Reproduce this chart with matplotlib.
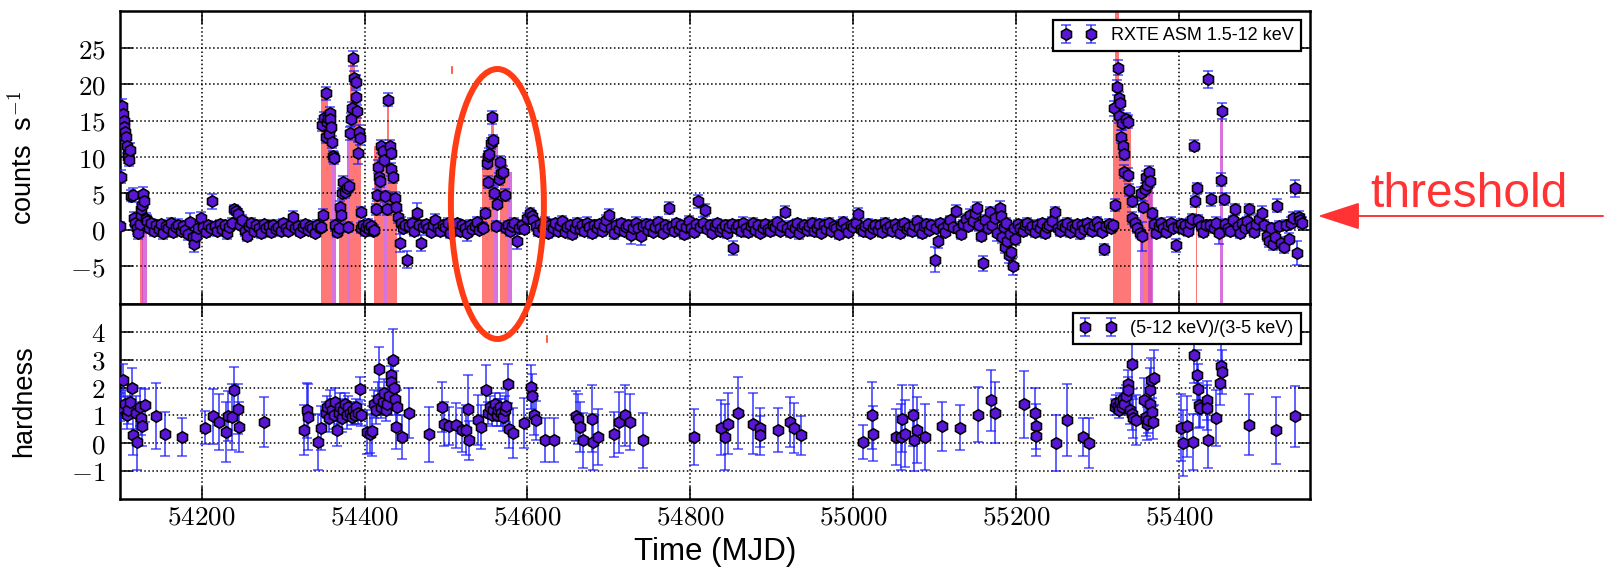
import matplotlib
matplotlib.use("Agg")
import matplotlib.pyplot as plt
import numpy as np
from matplotlib.patches import Ellipse, FancyArrowPatch
from matplotlib.lines import Line2D
from matplotlib.ticker import FuncFormatter

# ---------------- data: RXTE ASM light curve (mjd, rate, err) ----------------
asm_seg1 = [(54100, 0.5, 0.6), (54101, 7.3, 0.9), (54102, 17.0, 1.0), (54103, 16.0, 1.0),
            (54104, 15.0, 1.0), (54105, 14.2, 0.9), (54106, 13.5, 0.9), (54107, 12.8, 0.9),
            (54108, 11.5, 0.9), (54109, 10.5, 0.8), (54110, 10.0, 0.8), (54111, 9.6, 0.8),
            (54112, 11.0, 0.9), (54113, 4.7, 0.8), (54115, 4.8, 1.0), (54117, 1.6, 0.9),
            (54118, 1.0, 0.8), (54120, 0.2, 0.8), (54122, -0.4, 0.8), (54124, 0.8, 0.8),
            (54125, 2.0, 0.8), (54126, 2.8, 0.8), (54127, 3.4, 0.8), (54128, 4.9, 1.0),
            (54129, 4.0, 0.9), (54131, 1.5, 0.8), (54133, 1.2, 0.8)]
asm_seg2 = [(54135, 0.3, 0.7), (54138, 0.9, 0.6), (54141, -0.2, 0.7), (54144, 0.6, 0.6),
            (54147, 0.1, 0.7), (54150, 0.8, 0.6), (54153, -0.4, 0.8), (54156, 0.5, 0.6),
            (54159, 0.2, 0.7), (54162, 1.0, 0.6), (54165, -0.3, 0.7), (54168, 0.4, 0.6),
            (54171, 0.7, 0.8), (54174, -0.1, 0.6), (54177, 0.5, 0.7), (54180, 0.0, 0.6),
            (54183, -0.6, 0.8), (54186, 1.1, 1.2), (54189, -1.0, 0.9), (54191, -2.0, 1.1),
            (54193, -0.8, 0.8), (54196, 0.3, 0.7), (54199, 1.6, 0.9), (54202, 0.4, 0.6),
            (54205, -0.3, 0.7), (54208, 0.6, 0.6), (54211, 0.2, 0.7), (54213, 3.9, 1.0),
            (54216, 0.5, 0.6), (54219, -0.2, 0.7), (54222, 0.8, 0.6), (54225, 0.1, 0.7),
            (54228, 0.6, 0.6), (54231, -0.5, 0.7), (54234, 0.4, 0.6), (54237, 0.9, 0.7),
            (54240, 2.8, 0.6), (54242, 2.6, 0.6), (54244, 2.2, 0.7), (54247, 0.7, 0.6),
            (54250, 1.3, 0.7), (54253, -0.2, 0.6), (54255, -0.8, 0.7), (54258, 0.5, 0.6),
            (54261, 0.9, 0.7), (54264, -0.1, 0.6), (54267, 0.6, 0.7), (54270, 0.3, 0.6),
            (54273, -0.4, 0.7), (54276, 0.8, 0.6), (54279, 0.2, 0.7), (54282, 0.5, 0.6),
            (54285, -0.3, 0.7), (54288, 0.7, 0.6), (54291, 0.1, 0.7), (54294, 0.4, 0.6),
            (54297, -0.2, 0.7), (54300, 0.9, 0.6), (54303, 0.3, 0.7), (54306, -0.1, 0.6),
            (54309, 0.6, 0.7), (54312, 1.8, 0.8), (54315, 0.2, 0.6), (54318, 0.5, 0.7),
            (54321, -0.3, 0.6), (54324, 0.4, 0.7), (54327, 0.8, 0.6), (54330, 0.0, 0.7),
            (54333, 0.5, 0.6), (54336, 0.2, 0.7), (54339, -0.4, 0.6), (54342, 0.6, 0.7),
            (54345, 0.3, 0.6)]
asm_seg3 = [(54347, 0.4, 0.6), (54348, 14.4, 0.8), (54349, 2.1, 0.7), (54350, 15.4, 0.8),
            (54352, 12.8, 0.8), (54353, 18.8, 0.9), (54354, 14.8, 0.8), (54355, 15.4, 0.8),
            (54356, 13.2, 0.8), (54357, 16.1, 0.8), (54358, 15.2, 0.8), (54359, 14.2, 0.8),
            (54360, 12.1, 0.8), (54361, 10.1, 0.8), (54362, 9.9, 0.8), (54364, 0.6, 0.7),
            (54366, -0.3, 0.7), (54368, 0.2, 0.7), (54370, 3.2, 0.7), (54371, 2.0, 0.7),
            (54372, 5.0, 0.8), (54374, 6.6, 0.8), (54376, 5.2, 0.8), (54378, 5.8, 0.8),
            (54380, 0.4, 0.7), (54381, 6.0, 0.8), (54382, 13.3, 0.9), (54383, 15.2, 0.9),
            (54384, 16.7, 0.9), (54386, 23.6, 1.0), (54387, 20.9, 0.9), (54389, 20.4, 0.9),
            (54390, 18.3, 0.9), (54391, 16.3, 0.9), (54392, 10.6, 1.5), (54393, 13.5, 0.9),
            (54394, 12.6, 0.9), (54395, 2.5, 0.7), (54396, 0.2, 0.7), (54398, 0.6, 0.6),
            (54400, -0.1, 0.7), (54402, 0.4, 0.6), (54404, 0.8, 0.7), (54406, 0.1, 0.6),
            (54408, 0.5, 0.7), (54410, -0.2, 0.6), (54412, 0.0, 0.7), (54414, 2.8, 0.8),
            (54415, 4.8, 0.8), (54416, 8.7, 0.9), (54418, 7.3, 0.8), (54419, 6.7, 0.8),
            (54420, 11.5, 0.9), (54422, 10.8, 0.9), (54424, 9.6, 0.9), (54425, 4.6, 0.8),
            (54428, 2.8, 0.8), (54429, 17.9, 0.9), (54431, 11.5, 0.9), (54432, 10.6, 0.9),
            (54433, 8.3, 0.9), (54435, 7.3, 0.8), (54437, 4.4, 0.8), (54439, 3.2, 0.8),
            (54441, 1.8, 0.8), (54443, -1.8, 1.2), (54445, 1.0, 0.8), (54447, 0.3, 0.7),
            (54449, 0.7, 0.7), (54452, -4.1, 1.2), (54455, 0.5, 0.7), (54458, 0.9, 0.7),
            (54461, -0.2, 0.7), (54464, 2.3, 1.4), (54467, 0.6, 0.7), (54469, -1.8, 1.1),
            (54472, 0.4, 0.6)]
asm_seg4 = [(54475, 0.8, 0.6), (54478, 0.2, 0.7), (54481, -0.3, 0.6), (54484, 0.6, 0.7),
            (54487, 1.4, 0.8), (54490, 0.3, 0.6), (54493, -0.2, 0.7), (54496, 0.7, 0.6),
            (54499, 0.4, 0.7), (54502, 1.0, 0.6), (54505, -0.4, 0.7), (54508, 0.5, 0.6),
            (54511, 0.2, 0.7), (54514, 0.9, 0.6), (54517, -0.1, 0.7), (54520, 0.6, 0.6),
            (54523, 0.3, 0.7), (54526, -0.5, 1.0), (54529, 0.7, 0.6), (54532, 0.1, 0.7),
            (54535, 0.5, 0.6), (54538, 1.1, 0.7), (54541, 0.0, 0.6), (54544, 0.4, 0.7)]
asm_seg5 = [(54546, 0.3, 0.6), (54548, 2.3, 0.7), (54550, 9.2, 0.8), (54551, 6.6, 0.8),
            (54552, 10.1, 0.8), (54553, 10.5, 0.8), (54555, 11.9, 0.8), (54557, 15.5, 0.9),
            (54558, 12.3, 0.8), (54559, 5.1, 0.8), (54561, 0.5, 0.7), (54563, 3.6, 0.8),
            (54565, 7.0, 0.8), (54566, 9.3, 0.8), (54568, 7.8, 0.8), (54570, 8.0, 0.8),
            (54572, 4.8, 0.8), (54574, 0.2, 0.7), (54576, 0.6, 0.6), (54578, -0.2, 0.7),
            (54581, 0.5, 0.6), (54584, 0.9, 0.7), (54587, -1.6, 1.0), (54590, 0.3, 0.6),
            (54593, 0.7, 0.7), (54596, 0.1, 0.6), (54600, 1.6, 0.7), (54603, 2.3, 0.7),
            (54605, 1.9, 0.7), (54607, 1.4, 0.6)]
asm_seg6 = [(54610, 0.5, 0.6), (54613, -0.2, 0.7), (54616, 0.8, 0.6), (54619, 0.3, 0.7),
            (54622, 1.1, 0.6), (54625, -0.4, 0.7), (54628, 0.6, 0.6), (54631, 0.2, 0.7),
            (54634, 0.9, 0.6), (54637, -0.1, 0.7), (54640, 0.5, 0.6), (54643, 1.2, 0.7),
            (54646, -0.3, 0.6), (54649, 0.4, 0.7), (54652, 0.7, 0.6), (54655, -0.6, 0.7),
            (54658, 0.3, 0.6), (54661, 0.9, 0.7), (54664, 0.1, 0.6), (54667, 0.6, 0.7),
            (54670, -0.2, 0.6), (54673, 1.0, 0.7), (54676, 0.4, 0.6), (54679, -0.4, 0.7),
            (54682, 0.7, 0.6), (54685, 0.2, 0.7), (54688, 0.8, 0.6), (54691, -0.1, 0.7),
            (54694, 0.5, 0.6), (54697, 1.3, 0.7), (54700, 2.1, 0.8), (54703, 0.3, 0.6),
            (54706, -0.5, 0.7), (54709, 0.6, 0.6), (54712, 0.1, 0.7), (54715, 0.9, 0.6),
            (54718, -0.2, 0.7), (54721, 0.4, 0.6), (54724, 0.7, 0.7), (54727, -0.7, 1.2),
            (54730, 0.3, 0.6), (54733, 1.0, 0.7), (54736, 0.2, 0.6), (54739, -0.9, 1.2),
            (54742, 0.5, 0.6), (54745, 0.8, 0.7), (54748, 0.0, 0.6), (54751, 0.6, 0.7),
            (54754, -0.3, 0.6), (54757, 0.4, 0.7), (54760, 1.1, 0.6), (54763, 0.2, 0.7),
            (54766, -0.4, 0.6), (54769, 0.7, 0.7), (54772, 0.3, 0.6), (54774, 3.0, 0.8),
            (54777, 0.5, 0.6), (54780, -0.2, 0.7), (54783, 0.9, 0.6), (54786, 0.1, 0.7),
            (54789, 0.6, 0.6), (54792, -0.6, 0.7), (54795, 0.4, 0.6), (54798, 1.2, 0.7),
            (54801, 0.2, 0.6), (54804, -0.3, 0.7), (54807, 0.8, 0.6), (54809, 3.9, 0.9),
            (54812, 0.4, 0.6), (54815, 1.0, 0.7), (54818, 2.7, 0.8), (54821, 0.1, 0.6),
            (54824, 0.6, 0.7), (54827, -0.4, 0.6), (54830, 0.5, 0.7), (54833, 0.9, 0.6),
            (54836, -0.1, 0.7), (54839, 0.3, 0.6), (54842, 0.7, 0.7), (54845, -0.5, 0.6),
            (54848, 0.4, 0.7), (54851, 0.8, 0.6), (54853, -2.5, 1.0), (54856, 0.2, 0.6),
            (54859, 0.6, 0.7), (54862, -0.2, 0.6), (54865, 1.0, 0.7), (54868, 0.3, 0.6),
            (54871, -0.3, 0.7), (54874, 0.5, 0.6), (54877, 0.9, 0.7), (54880, 0.0, 0.6),
            (54883, 0.6, 0.7), (54886, -0.4, 0.6), (54889, 0.3, 0.7), (54892, 0.8, 0.6),
            (54895, 0.1, 0.7), (54898, -0.2, 0.6), (54901, 0.7, 0.7), (54904, 0.4, 0.6),
            (54907, 1.1, 0.7), (54910, -0.1, 0.6), (54913, 0.5, 0.7), (54916, 2.5, 0.8),
            (54919, 0.3, 0.6), (54922, -0.3, 0.7), (54925, 0.6, 0.6), (54928, 0.2, 0.7),
            (54931, 0.9, 0.6), (54934, -0.5, 0.7), (54937, 0.4, 0.6), (54940, 0.7, 0.7),
            (54943, 0.0, 0.6), (54946, 0.5, 0.7), (54949, 1.0, 0.6), (54952, -0.2, 0.7),
            (54955, 0.3, 0.6), (54958, 0.8, 0.7)]
asm_seg7 = [(54961, -0.4, 0.6), (54964, 0.6, 0.7), (54967, 0.1, 0.6), (54970, 0.9, 0.7),
            (54973, -0.1, 0.6), (54976, 0.5, 0.7), (54979, 0.3, 0.6), (54982, -0.6, 0.7),
            (54985, 0.7, 0.6), (54988, 1.1, 0.7), (54991, 0.2, 0.6), (54994, -0.3, 0.7),
            (54997, 0.6, 0.6), (55000, 0.4, 0.7), (55003, 0.9, 0.6), (55006, 2.2, 0.8),
            (55009, 0.1, 0.6), (55012, -0.2, 0.7), (55015, 0.5, 0.6), (55018, 0.8, 0.7),
            (55021, -0.4, 0.6), (55024, 0.3, 0.7), (55027, 0.7, 0.6), (55030, 0.0, 0.7),
            (55033, 0.6, 0.6), (55036, -0.3, 0.7), (55039, 1.0, 0.6), (55042, 0.2, 0.7),
            (55045, 0.5, 0.6), (55048, -0.1, 0.7), (55051, 0.8, 0.6), (55054, 0.3, 0.7),
            (55057, -0.5, 0.6), (55060, 0.6, 0.7), (55063, 0.9, 0.6), (55066, 0.1, 0.7),
            (55069, 0.4, 0.6), (55072, -0.2, 0.7), (55075, 0.7, 0.6), (55078, 1.2, 0.7),
            (55081, 0.3, 0.6), (55084, -0.4, 0.7), (55087, 0.5, 0.6), (55090, 0.8, 0.7),
            (55093, 0.0, 0.6), (55096, 0.6, 0.7), (55100, -4.1, 1.7), (55102, 0.3, 0.6),
            (55104, -1.5, 1.0), (55107, 0.9, 0.6), (55110, 0.2, 0.7), (55113, -0.3, 0.6),
            (55116, 0.7, 0.7), (55119, 1.3, 0.6), (55122, 0.4, 0.7), (55126, 2.6, 0.8),
            (55129, 0.1, 0.6), (55132, -0.6, 0.7), (55135, 0.8, 0.6), (55138, 1.5, 0.7),
            (55141, 0.5, 0.6), (55144, 2.0, 0.8), (55147, 1.2, 0.7), (55150, 2.3, 0.8),
            (55152, 3.0, 0.8), (55155, 0.6, 0.7), (55157, -0.8, 0.8), (55159, -4.6, 1.0),
            (55162, 1.4, 0.7), (55165, 0.3, 0.6), (55168, 2.4, 0.8), (55171, 0.7, 0.7),
            (55174, 1.6, 0.7), (55177, -0.5, 1.0), (55180, 3.0, 0.9), (55181, 1.9, 0.8),
            (55183, -1.0, 0.8), (55185, 0.4, 0.7), (55186, -2.3, 0.9), (55188, 0.9, 0.7),
            (55189, -1.5, 0.9), (55191, -3.5, 1.0), (55193, -0.6, 0.8), (55194, -3.0, 1.1),
            (55196, -5.0, 1.2), (55198, 0.2, 0.7), (55199, -1.2, 0.9), (55202, 0.8, 0.6),
            (55205, 0.3, 0.7), (55208, -0.2, 0.6), (55211, 0.6, 0.7), (55214, 1.0, 0.6),
            (55217, 0.1, 0.7), (55220, 0.5, 0.6), (55223, -0.3, 0.7), (55226, 0.7, 0.6),
            (55229, 0.2, 0.7), (55232, 0.9, 0.6), (55235, -0.4, 0.7), (55238, 0.4, 0.6),
            (55241, 0.6, 0.7), (55244, 1.2, 0.6), (55248, 2.4, 0.8), (55251, 0.3, 0.6),
            (55254, -0.1, 0.7), (55257, 0.7, 0.6), (55260, 0.4, 0.7), (55263, 1.0, 0.6),
            (55266, -0.3, 0.7), (55269, 0.5, 0.6), (55272, 0.2, 0.7), (55275, 0.8, 0.6),
            (55278, -0.5, 0.7), (55281, 0.6, 0.6), (55284, 0.1, 0.7), (55287, 0.9, 0.6),
            (55290, 0.3, 0.7), (55293, -0.2, 0.6), (55296, 0.7, 0.7), (55299, 1.1, 0.6),
            (55302, 0.4, 0.7), (55305, -0.3, 0.6), (55308, -2.7, 0.8), (55311, 0.5, 0.6),
            (55314, 0.8, 0.7), (55317, 0.2, 0.6)]
asm_seg8 = [(55319, 0.6, 0.6), (55320, 16.7, 1.0), (55322, 3.4, 0.8), (55324, 19.6, 1.0),
            (55325, 22.3, 1.0), (55326, 15.6, 0.9), (55327, 18.1, 0.9), (55328, 17.4, 0.9),
            (55329, 12.8, 0.9), (55330, 14.7, 0.9), (55331, 11.5, 0.9), (55332, 10.5, 0.9),
            (55333, 8.0, 0.9), (55335, 15.2, 0.9), (55337, 7.6, 0.9), (55338, 14.9, 0.9),
            (55339, 5.5, 0.8), (55342, 1.6, 0.8), (55343, 3.9, 0.8), (55346, 0.9, 0.7),
            (55349, 0.3, 0.7), (55352, -0.4, 0.7), (55354, 5.0, 0.9), (55355, -0.9, 2.0),
            (55356, 3.2, 0.8), (55358, 5.6, 0.8), (55359, 7.3, 0.8), (55361, 6.2, 0.8),
            (55363, 8.0, 0.8), (55365, 6.7, 0.8), (55367, 2.3, 0.7), (55369, 0.8, 0.7),
            (55372, -0.4, 0.7)]
asm_seg9 = [(55375, 0.5, 0.6), (55378, 0.9, 0.7), (55381, 0.2, 0.6), (55384, -0.3, 0.7),
            (55387, 0.6, 0.6), (55390, 1.0, 0.7), (55393, 0.3, 0.6), (55396, -2.1, 0.9),
            (55399, 0.4, 0.6), (55402, 0.8, 0.7), (55405, 0.1, 0.6), (55408, 0.6, 0.7),
            (55411, -0.2, 0.6), (55414, 0.9, 0.7), (55416, 1.5, 0.7), (55418, 11.6, 0.8),
            (55420, 3.9, 0.8), (55422, 5.7, 0.8), (55424, 1.4, 0.7), (55427, 0.5, 0.6),
            (55430, -0.3, 0.7), (55433, 0.7, 0.6), (55436, 20.7, 1.2), (55438, 0.6, 0.7),
            (55440, 4.2, 0.9), (55443, 0.2, 0.6), (55446, 1.0, 0.7), (55449, -0.5, 1.5),
            (55452, 6.9, 0.9), (55453, 16.4, 1.1), (55455, 4.2, 0.8), (55457, 0.8, 0.7),
            (55460, 0.3, 0.6), (55463, -0.2, 0.7), (55466, 1.3, 0.6), (55469, 2.8, 0.8),
            (55472, 0.5, 0.6), (55475, -0.4, 0.7), (55478, 0.9, 0.6), (55481, 0.2, 0.7),
            (55484, 1.2, 0.6), (55486, 2.8, 0.8), (55489, 0.4, 0.6), (55492, -0.3, 0.7),
            (55495, 0.8, 0.6), (55498, 1.5, 0.7), (55502, 2.3, 1.0), (55505, 0.6, 0.7),
            (55508, -0.8, 0.8), (55511, -1.5, 0.9), (55513, 0.2, 0.7), (55516, -2.0, 0.8),
            (55518, -1.0, 0.9), (55521, 3.3, 0.9), (55523, 0.5, 0.7), (55526, -1.8, 0.8),
            (55529, -2.4, 0.8), (55532, 0.7, 0.7), (55535, -1.2, 0.8), (55538, 1.0, 0.8),
            (55540, 1.6, 0.9), (55543, 5.7, 1.2), (55545, -3.2, 1.7), (55547, 1.8, 0.8),
            (55549, 1.4, 0.8), (55551, 1.0, 0.8)]

# ---------------- data: hardness ratio (mjd, ratio, err) ----------------
hr_seg1 = [(54100, 1.3, 0.5), (54103, 2.27, 0.6), (54106, 1.4, 0.5), (54108, 1.0, 0.5),
           (54110, 1.2, 0.5), (54112, 1.5, 0.6), (54114, 2.0, 0.7), (54116, 0.28, 0.7),
           (54119, 1.1, 0.6), (54121, 0.04, 1.0), (54124, 1.3, 0.7), (54126, 0.9, 0.6),
           (54127, 0.6, 0.7), (54130, 1.36, 0.6), (54144, 0.97, 1.2), (54155, 0.34, 0.8),
           (54176, 0.22, 0.7), (54204, 0.55, 0.6), (54214, 0.97, 1.0), (54221, 0.76, 1.0),
           (54230, 0.4, 1.1), (54232, 0.97, 0.9), (54237, 0.94, 1.2), (54240, 1.9, 0.85),
           (54245, 1.24, 0.9), (54246, 0.58, 0.9), (54277, 0.76, 0.9), (54325, 0.48, 0.9),
           (54329, 1.18, 1.0), (54331, 0.94, 1.2), (54343, 0.04, 1.0), (54347, 0.55, 0.8)]
hr_seg2 = [(54352, 1.1, 0.4), (54354, 1.3, 0.4), (54356, 0.9, 0.5), (54358, 1.4, 0.5),
           (54360, 1.2, 0.4), (54362, 1.0, 0.5), (54364, 1.5, 0.5), (54366, 0.48, 0.6),
           (54368, 1.1, 0.4), (54370, 1.3, 0.5), (54372, 0.9, 0.5), (54374, 1.2, 0.4),
           (54376, 1.4, 0.4), (54378, 1.0, 0.5), (54380, 1.3, 0.4), (54382, 1.1, 0.3),
           (54384, 0.95, 0.3), (54386, 1.2, 0.3), (54388, 1.0, 0.3), (54390, 1.3, 0.3),
           (54392, 1.1, 0.4), (54394, 1.97, 0.4), (54396, 1.0, 0.4), (54403, 0.4, 0.8),
           (54407, 0.34, 0.7), (54409, 0.45, 0.9), (54412, 1.4, 0.5), (54414, 1.2, 0.5),
           (54416, 1.6, 0.6), (54418, 2.67, 0.8), (54420, 1.3, 0.4), (54422, 1.5, 0.5),
           (54424, 1.8, 0.5), (54426, 1.2, 0.4), (54428, 1.4, 0.4), (54430, 1.7, 0.5),
           (54432, 2.45, 0.6), (54433, 2.2, 0.6), (54435, 3.0, 1.1), (54436, 2.0, 0.6),
           (54437, 1.6, 0.6), (54438, 0.58, 0.8), (54440, 1.3, 0.6), (54446, 0.22, 0.8),
           (54454, 1.09, 0.9)]
hr_seg3 = [(54479, 0.31, 1.0), (54495, 1.3, 0.9), (54498, 0.7, 0.8), (54504, 0.62, 0.7),
           (54512, 0.64, 0.8), (54520, 0.48, 0.8), (54525, 0.46, 0.9), (54527, 1.24, 1.2),
           (54528, 0.1, 0.7), (54539, 0.82, 0.9), (54543, 0.58, 0.8), (54549, 1.93, 0.9),
           (54552, 1.1, 0.4), (54554, 1.3, 0.4), (54556, 1.0, 0.4), (54558, 1.2, 0.3),
           (54560, 1.4, 0.4), (54562, 1.0, 0.4), (54564, 1.2, 0.4), (54566, 1.3, 0.5),
           (54568, 1.1, 0.5), (54570, 0.95, 0.5), (54572, 1.2, 0.5), (54574, 1.35, 0.6),
           (54576, 2.15, 0.7), (54577, 0.52, 0.7), (54582, 0.36, 0.9), (54596, 0.72, 0.9),
           (54604, 2.03, 0.8), (54605, 1.69, 0.8), (54608, 1.0, 0.7), (54610, 0.82, 0.7),
           (54622, 0.1, 0.8), (54632, 0.1, 0.8)]
hr_seg4 = [(54659, 0.97, 0.9), (54662, 0.88, 0.9), (54665, 0.58, 0.9), (54668, 0.1, 1.0),
           (54679, 0.88, 1.2), (54680, 0.04, 1.0), (54687, 0.22, 1.0), (54706, 0.31, 0.8),
           (54712, 0.76, 1.1), (54720, 1.0, 1.1), (54726, 0.76, 1.0), (54742, 0.1, 1.0),
           (54804, 0.22, 1.0), (54838, 0.56, 1.0), (54843, 0.22, 1.2), (54846, 0.7, 1.1),
           (54859, 1.1, 1.3), (54877, 0.7, 1.1), (54885, 0.56, 0.7), (54886, 0.28, 0.7),
           (54908, 0.48, 0.8), (54922, 0.76, 0.9), (54927, 0.56, 0.9), (54936, 0.28, 0.7),
           (55012, 0.04, 0.6), (55023, 1.0, 1.2), (55024, 0.34, 1.0), (55052, 0.22, 1.0),
           (55059, 0.22, 1.2), (55060, 0.88, 1.2), (55064, 0.34, 1.2), (55074, 1.0, 1.1),
           (55075, 0.1, 1.1), (55078, 0.48, 1.2), (55088, 0.22, 1.2), (55109, 0.6, 0.9),
           (55131, 0.56, 0.8), (55153, 1.03, 1.0), (55169, 1.55, 1.1), (55174, 1.1, 1.1),
           (55210, 1.4, 1.2), (55223, 1.1, 0.9), (55224, 0.6, 0.8), (55225, 0.24, 0.7),
           (55249, 0.0, 1.0), (55263, 0.82, 1.3), (55282, 0.22, 0.7), (55290, 0.0, 0.9)]
hr_seg5 = [(55321, 1.3, 0.3), (55323, 1.45, 0.3), (55325, 1.35, 0.25), (55326, 1.2, 0.3),
           (55328, 1.5, 0.3), (55330, 1.3, 0.3), (55331, 1.6, 0.4), (55333, 1.4, 0.3),
           (55335, 1.7, 0.4), (55337, 2.15, 0.5), (55338, 1.9, 0.5), (55340, 1.2, 0.5),
           (55342, 2.87, 0.9), (55343, 1.06, 0.6), (55344, 0.9, 0.7), (55347, 0.82, 0.9),
           (55357, 1.55, 0.8), (55359, 0.94, 0.7), (55361, 0.7, 0.6), (55362, 0.85, 0.5),
           (55364, 1.9, 0.8), (55365, 1.4, 0.7), (55366, 2.27, 0.8), (55367, 1.12, 0.5),
           (55368, 0.75, 0.6), (55369, 2.36, 1.0), (55402, 0.56, 1.2), (55405, 0.0, 1.2),
           (55410, 0.6, 1.1), (55417, 0.04, 1.0), (55419, 3.17, 1.0), (55422, 2.45, 0.9),
           (55423, 1.94, 0.9), (55425, 1.36, 0.8), (55426, 1.28, 0.7), (55434, 1.55, 0.7),
           (55435, 1.28, 0.8), (55436, 0.1, 1.0), (55446, 0.9, 1.0), (55451, 2.17, 0.8),
           (55452, 2.8, 0.8), (55453, 2.57, 0.8), (55486, 0.67, 1.1), (55519, 0.46, 1.2),
           (55543, 0.97, 1.1)]

# ---------------- data: shaded intervals (left, right, top) ----------------
red_left  = [54124, 54346, 54354.5, 54369, 54382, 54388.5, 54411.5, 54427, 54430.5,
             54544.5, 54555, 54566, 55319, 55321.5, 55327, 55333, 55357, 55420.5]
red_right = [54128, 54354.5, 54360, 54378, 54388.5, 54395, 54424, 54430.5, 54439.5,
             54555, 54558.5, 54575, 55321.5, 55327, 55333, 55341, 55367, 55422]
red_top   = [0.5, 18.8, 15.0, 5.2, 23.6, 16.0, 11.5, 17.9, 8.3,
             10.3, 15.5, 9.0, 16.7, 31.0, 17.4, 14.9, 8.0, 5.7]
mag_left  = [54127, 54360, 54378.5, 54424, 54558.5, 54575, 55352.5, 55362, 55450.5]
mag_right = [54133, 54364.5, 54382, 54428, 54564, 54580.5, 55357, 55368, 55454.5]
mag_top   = [0.0, 10.0, 13.3, 9.6, 12.2, 8.0, 5.0, 6.7, 16.4]

asm_label = 'RXTE ASM 1.5-12 keV'
hr_label = '(5-12 keV)/(3-5 keV)'
top_yticks = [-5, 0, 5, 10, 15, 20, 25]
bot_yticks = [-1, 0, 1, 2, 3, 4]
x_ticks = [54200, 54400, 54600, 54800, 55000, 55200, 55400]


def unpack(*segs):
    rows = [r for s in segs for r in s]
    a = np.array(rows, dtype=float)
    return a[:, 0], a[:, 1], a[:, 2]


asm_t, asm_r, asm_e = unpack(asm_seg1, asm_seg2, asm_seg3, asm_seg4, asm_seg5,
                             asm_seg6, asm_seg7, asm_seg8, asm_seg9)
hr_t, hr_r, hr_e = unpack(hr_seg1, hr_seg2, hr_seg3, hr_seg4, hr_seg5)

# ---------------- figure ----------------
plt.rcParams['font.family'] = ['Liberation Sans', 'DejaVu Sans']
plt.rcParams['mathtext.fontset'] = 'cm'

W, H = 1607, 567
fig = plt.figure(figsize=(W / 100, H / 100), dpi=100)
ax1 = fig.add_axes([119.5 / W, 1 - 304 / H, (1310 - 119.5) / W, (304 - 11) / H])
ax2 = fig.add_axes([119.5 / W, 1 - 498.5 / H, (1310 - 119.5) / W, (498.5 - 304) / H],
                   sharex=ax1)

XMIN, XMAX = 54099, 55561
Y1 = (-10.2, 30.1)
Y2 = (-2.0, 5.02)

mface = '#5a16d6'
ecol = (0.1, 0.1, 1.0, 0.75)

# shaded intervals
rl = np.array(red_left); rr = np.array(red_right); rt = np.array(red_top)
ax1.bar(rl, rt - Y1[0], width=rr - rl, bottom=Y1[0], align='edge',
        color='#ff5a5a', alpha=0.82, lw=0, zorder=1)
ml = np.array(mag_left); mr = np.array(mag_right); mt = np.array(mag_top)
ax1.bar(ml, mt - Y1[0], width=mr - ml, bottom=Y1[0], align='edge',
        color='#cc44d4', alpha=0.75, lw=0, zorder=1)

eb_kw = dict(fmt='h', ms=8.3, mfc=mface, mec='k', mew=1.15, ecolor=ecol,
             elinewidth=1.3, capsize=3.5, capthick=1.3)
ax1.errorbar(asm_t, asm_r, yerr=asm_e, label=asm_label, zorder=3, **eb_kw)
ax2.errorbar(hr_t, hr_r, yerr=hr_e, label=hr_label, zorder=3, **eb_kw)

fmt = FuncFormatter(lambda v, p: '$%g$' % v)
for ax in (ax1, ax2):
    ax.set_xlim(XMIN, XMAX)
    ax.set_xticks(x_ticks)
    ax.grid(True, color='k', ls=':', lw=1.1)
    ax.tick_params(direction='in', top=True, right=True, length=9, width=1.1,
                   labelsize=19.5)
    ax.tick_params(axis='y', pad=10)
    ax.tick_params(axis='x', pad=4.5)
    ax.yaxis.set_major_formatter(fmt)
    for s in ax.spines.values():
        s.set_linewidth(1.8)
    leg = ax.legend(loc='upper right', numpoints=2, fancybox=False, framealpha=1,
                    edgecolor='k', fontsize=13, borderaxespad=0.5)
    leg.get_frame().set_linewidth(1.6)

ax1.set_ylim(*Y1)
ax1.set_yticks(top_yticks)
ax2.set_ylim(*Y2)
ax2.set_yticks(bot_yticks)
ax2.xaxis.set_major_formatter(fmt)
plt.setp(ax1.get_xticklabels(), visible=False)

ax1.set_ylabel('counts  s$^{-1}$', fontsize=19.5)
ax2.set_ylabel('hardness', fontsize=19.5)
ax1.yaxis.set_label_coords(-0.069, 0.5)
ax2.yaxis.set_label_coords(-0.069, 0.5)
ax2.set_xlabel('Time (MJD)', fontsize=22.5)
ax2.xaxis.set_label_coords(0.5, -0.198)

# ---------------- annotations ----------------
fig.add_artist(Ellipse((497.4 / W, 1 - 204 / H), 93 / W, 270 / H,
                       transform=fig.transFigure, fill=False, ec='#ff3c14', lw=4.3))
fig.add_artist(FancyArrowPatch((1603 / W, 1 - 216 / H), (1318 / W, 1 - 216 / H),
                               transform=fig.transFigure,
                               arrowstyle='-|>,head_length=26.5,head_width=8.6',
                               mutation_scale=1, shrinkA=0, shrinkB=0,
                               color='#ff3333', lw=1.4))
fig.text(1370 / W, 1 - 207 / H, 'threshold', fontsize=34.5, color='#ff3333',
         ha='left', va='baseline')
fig.add_artist(Line2D([451.6 / W, 451.6 / W], [1 - 67 / H, 1 - 73 / H],
                      transform=fig.transFigure, color='#ff4422', lw=1.2))
fig.add_artist(Line2D([547 / W, 547 / W], [1 - 336 / H, 1 - 342 / H],
                      transform=fig.transFigure, color='#ff4422', lw=1.2))

fig.savefig('out.png', dpi=100)
